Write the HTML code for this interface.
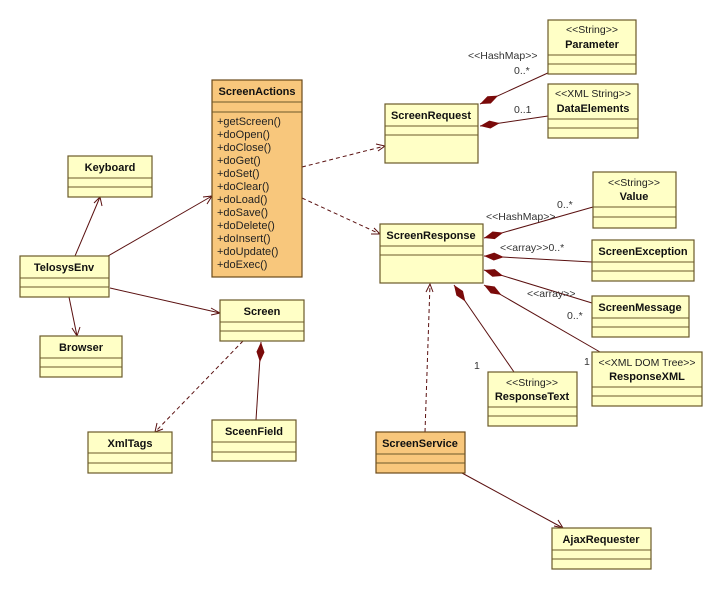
<!DOCTYPE html>
<html><head><meta charset="utf-8"><style>
html,body{margin:0;padding:0;background:#fff;}
svg{display:block;font-family:"Liberation Sans","DejaVu Sans",sans-serif;}
.b{fill:#ffffc6;stroke:#6b5a2a;stroke-width:1.2}
.o{fill:#f8c77c;stroke:#6b4a1a;stroke-width:1.2}
.s{stroke:#6b5a2a;stroke-width:1}
.n{font-weight:bold;font-size:11px;fill:#111;text-anchor:middle}
.st{font-size:10.5px;fill:#222;text-anchor:middle}
.l{stroke:#5a1010;stroke-width:1;fill:none}
.d{stroke:#5a1010;stroke-width:1;fill:none;stroke-dasharray:4,3}
.dm{fill:#7a0a0a}
.t{font-size:10.5px;fill:#333}
.m{font-size:11px;fill:#222}
</style></head><body>
<svg width="723" height="590" viewBox="0 0 723 590" xmlns="http://www.w3.org/2000/svg">
<!-- connectors -->
<line class="l" x1="75" y1="256" x2="100" y2="197"/><polyline class="l" points="94,203 100,197 102,206"/>
<line class="l" x1="108" y1="256" x2="212" y2="196"/><polyline class="l" points="203,197 212,196 207,204"/>
<line class="l" x1="110" y1="288" x2="220" y2="313"/><polyline class="l" points="211,308 220,313 211,315"/>
<line class="l" x1="69" y1="297" x2="77" y2="336"/><polyline class="l" points="72,328 77,336 80,327"/>
<line class="d" x1="243" y1="341" x2="155" y2="432"/><polyline class="l" points="157,423 155,432 163,429"/>
<line class="l" x1="256" y1="420" x2="261" y2="342"/>
<line class="d" x1="302" y1="167" x2="385" y2="146"/><polyline class="l" points="376,144 385,146 378,151"/>
<line class="d" x1="302" y1="198" x2="380" y2="234"/><polyline class="l" points="371,234 380,234 374,228"/>
<line class="d" x1="425" y1="432" x2="430" y2="284"/><polyline class="l" points="426,292 430,284 433,292"/>
<line class="l" x1="462" y1="473" x2="563" y2="528"/><polyline class="l" points="554,526 563,528 558,520"/>
<!-- compositions -->
<line class="l" x1="480" y1="104" x2="550" y2="72"/>
<g transform="translate(480,104) rotate(-24.6)"><polygon class="dm" points="0,0 10,-4 20,0 10,4"/></g>
<line class="l" x1="480" y1="126" x2="548" y2="116"/>
<g transform="translate(480,126) rotate(-8.4)"><polygon class="dm" points="0,0 10,-4 20,0 10,4"/></g>
<line class="l" x1="484" y1="238" x2="593" y2="207"/>
<g transform="translate(484,238) rotate(-15.5)"><polygon class="dm" points="0,0 10,-4 20,0 10,4"/></g>
<line class="l" x1="484" y1="256" x2="592" y2="262"/>
<g transform="translate(484,256) rotate(3.2)"><polygon class="dm" points="0,0 10,-4 20,0 10,4"/></g>
<line class="l" x1="484" y1="270" x2="592" y2="303"/>
<g transform="translate(484,270) rotate(17)"><polygon class="dm" points="0,0 10,-4 20,0 10,4"/></g>
<line class="l" x1="484" y1="285" x2="600" y2="352"/>
<g transform="translate(484,285) rotate(29.5)"><polygon class="dm" points="0,0 10,-4 20,0 10,4"/></g>
<line class="l" x1="454" y1="285" x2="514" y2="372"/>
<g transform="translate(454,285) rotate(55.4)"><polygon class="dm" points="0,0 10,-4 20,0 10,4"/></g>
<g transform="translate(261,342) rotate(93)"><polygon class="dm" points="0,0 10,-4 20,0 10,4"/></g>
<!-- labels -->
<text class="t" x="468" y="59">&lt;&lt;HashMap&gt;&gt;</text>
<text class="t" x="514" y="74">0..*</text>
<text class="t" x="514" y="113">0..1</text>
<text class="t" x="486" y="220">&lt;&lt;HashMap&gt;&gt;</text>
<text class="t" x="557" y="208">0..*</text>
<text class="t" x="500" y="251">&lt;&lt;array&gt;&gt;0..*</text>
<text class="t" x="527" y="297">&lt;&lt;array&gt;&gt;</text>
<text class="t" x="567" y="319">0..*</text>
<text class="t" x="474" y="369">1</text>
<text class="t" x="584" y="365">1</text>
<!-- boxes -->
<rect class="b" x="548" y="20" width="88" height="54"/><line class="s" x1="548" y1="55" x2="636" y2="55"/><line class="s" x1="548" y1="64" x2="636" y2="64"/>
<text class="st" x="592" y="33">&lt;&lt;String&gt;&gt;</text><text class="n" x="592" y="48">Parameter</text>
<rect class="b" x="548" y="84" width="90" height="54"/><line class="s" x1="548" y1="119" x2="638" y2="119"/><line class="s" x1="548" y1="128" x2="638" y2="128"/>
<text class="st" x="593" y="97">&lt;&lt;XML String&gt;&gt;</text><text class="n" x="593" y="112">DataElements</text>
<rect class="b" x="385" y="104" width="93" height="59"/><line class="s" x1="385" y1="126" x2="478" y2="126"/><line class="s" x1="385" y1="135" x2="478" y2="135"/>
<text class="n" x="431" y="119">ScreenRequest</text>
<rect class="o" x="212" y="80" width="90" height="197"/><line class="s" x1="212" y1="102" x2="302" y2="102"/><line class="s" x1="212" y1="112" x2="302" y2="112"/>
<text class="n" x="257" y="95">ScreenActions</text>
<g class="m"><text x="217" y="125">+getScreen()</text><text x="217" y="138">+doOpen()</text><text x="217" y="151">+doClose()</text><text x="217" y="164">+doGet()</text><text x="217" y="177">+doSet()</text><text x="217" y="190">+doClear()</text><text x="217" y="203">+doLoad()</text><text x="217" y="216">+doSave()</text><text x="217" y="229">+doDelete()</text><text x="217" y="242">+doInsert()</text><text x="217" y="255">+doUpdate()</text><text x="217" y="268">+doExec()</text></g>
<rect class="b" x="68" y="156" width="84" height="41"/><line class="s" x1="68" y1="178" x2="152" y2="178"/><line class="s" x1="68" y1="187" x2="152" y2="187"/>
<text class="n" x="110" y="171">Keyboard</text>
<rect class="b" x="20" y="256" width="89" height="41"/><line class="s" x1="20" y1="278" x2="109" y2="278"/><line class="s" x1="20" y1="287" x2="109" y2="287"/>
<text class="n" x="64" y="271">TelosysEnv</text>
<rect class="b" x="40" y="336" width="82" height="41"/><line class="s" x1="40" y1="358" x2="122" y2="358"/><line class="s" x1="40" y1="367" x2="122" y2="367"/>
<text class="n" x="81" y="351">Browser</text>
<rect class="b" x="220" y="300" width="84" height="41"/><line class="s" x1="220" y1="322" x2="304" y2="322"/><line class="s" x1="220" y1="331" x2="304" y2="331"/>
<text class="n" x="262" y="315">Screen</text>
<rect class="b" x="88" y="432" width="84" height="41"/><line class="s" x1="88" y1="453" x2="172" y2="453"/><line class="s" x1="88" y1="463" x2="172" y2="463"/>
<text class="n" x="130" y="447">XmlTags</text>
<rect class="b" x="212" y="420" width="84" height="41"/><line class="s" x1="212" y1="442" x2="296" y2="442"/><line class="s" x1="212" y1="452" x2="296" y2="452"/>
<text class="n" x="254" y="435">SceenField</text>
<rect class="b" x="380" y="224" width="103" height="59"/><line class="s" x1="380" y1="246" x2="483" y2="246"/><line class="s" x1="380" y1="255" x2="483" y2="255"/>
<text class="n" x="431" y="239">ScreenResponse</text>
<rect class="b" x="593" y="172" width="83" height="56"/><line class="s" x1="593" y1="207" x2="676" y2="207"/><line class="s" x1="593" y1="217" x2="676" y2="217"/>
<text class="st" x="634" y="186">&lt;&lt;String&gt;&gt;</text><text class="n" x="634" y="200">Value</text>
<rect class="b" x="592" y="240" width="102" height="41"/><line class="s" x1="592" y1="262" x2="694" y2="262"/><line class="s" x1="592" y1="271" x2="694" y2="271"/>
<text class="n" x="643" y="255">ScreenException</text>
<rect class="b" x="592" y="296" width="97" height="41"/><line class="s" x1="592" y1="318" x2="689" y2="318"/><line class="s" x1="592" y1="327" x2="689" y2="327"/>
<text class="n" x="640" y="311">ScreenMessage</text>
<rect class="b" x="592" y="352" width="110" height="54"/><line class="s" x1="592" y1="387" x2="702" y2="387"/><line class="s" x1="592" y1="396" x2="702" y2="396"/>
<text class="st" x="647" y="366">&lt;&lt;XML DOM Tree&gt;&gt;</text><text class="n" x="647" y="380">ResponseXML</text>
<rect class="b" x="488" y="372" width="89" height="54"/><line class="s" x1="488" y1="407" x2="577" y2="407"/><line class="s" x1="488" y1="416" x2="577" y2="416"/>
<text class="st" x="532" y="386">&lt;&lt;String&gt;&gt;</text><text class="n" x="532" y="400">ResponseText</text>
<rect class="o" x="376" y="432" width="89" height="41"/><line class="s" x1="376" y1="454" x2="465" y2="454"/><line class="s" x1="376" y1="463" x2="465" y2="463"/>
<text class="n" x="420" y="447">ScreenService</text>
<rect class="b" x="552" y="528" width="99" height="41"/><line class="s" x1="552" y1="550" x2="651" y2="550"/><line class="s" x1="552" y1="559" x2="651" y2="559"/>
<text class="n" x="601" y="543">AjaxRequester</text>
</svg>
</body></html>
